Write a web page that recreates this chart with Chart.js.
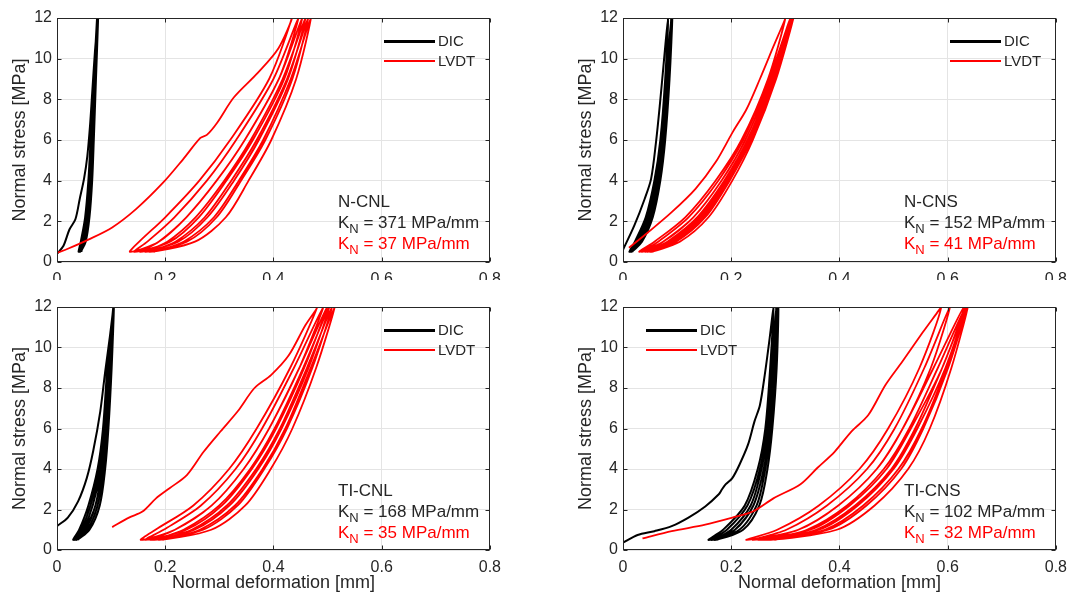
<!DOCTYPE html>
<html>
<head>
<meta charset="utf-8">
<script src="https://cdn.jsdelivr.net/npm/chart.js@4.4.0/dist/chart.umd.min.js"></script>
<style>
    body { margin: 0; width: 1075px; height: 603px; background: #fff; position: relative; overflow: hidden; font-family: "Liberation Sans", Arial, sans-serif; color: #262626; }
    .panel { position: absolute; overflow: hidden; width: 509px; }
    .panel canvas { display: block; }
    .legLine { position: absolute; width: 51px; }
    .legText { position: absolute; font-size: 15px; line-height: 16px; color: #262626; }
    .note { position: absolute; font-size: 17px; line-height: 21px; color: #262626; white-space: nowrap; }
    .note sub { font-size: 13px; vertical-align: -5px; line-height: 0; }
    .note .red { color: #ff0000; }
</style>
</head>
<body>
<div class="panel" style="left:0;top:0;height:280px"><canvas id="c0" width="509" height="302"></canvas></div>
<div class="panel" style="left:566px;top:0;height:280px"><canvas id="c1" width="509" height="302"></canvas></div>
<div class="panel" style="left:0;top:289px;height:314px"><canvas id="c2" width="509" height="314"></canvas></div>
<div class="panel" style="left:566px;top:289px;height:314px"><canvas id="c3" width="509" height="314"></canvas></div>
<div id="overlay"></div>
<script>
// panel labels and stiffness values
const panelNames = ["N-CNL", "N-CNS", "TI-CNL", "TI-CNS"];
const kDic = [371, 152, 168, 102];
const kLvdt = [37, 41, 35, 32];
const seriesNames = ["DIC", "LVDT"];

const xTickValues = [0, 0.2, 0.4, 0.6, 0.8];
const xTickLabels = ["0", "0.2", "0.4", "0.6", "0.8"];
const yTickValues = [0, 2, 4, 6, 8, 10, 12];
const yTickLabels = ["0", "2", "4", "6", "8", "10", "12"];

// [deformation mm, stress MPa]
const ncnlDic = [
    [0, 0.4], [0.012, 0.8], [0.023, 1.6], [0.034, 2.1], [0.042, 3.1], [0.05, 4.1], [0.056, 5.2], [0.061, 6.7], [0.065, 8.3], [0.07, 10.3], [0.075, 12],
    [0.067, 9], [0.062, 6], [0.058, 4], [0.052, 2.2], [0.044, 1], [0.04, 0.5],
    [0.049, 1], [0.057, 2.2], [0.062, 4], [0.066, 6], [0.07, 9], [0.074, 12],
    [0.068, 9], [0.063, 6], [0.059, 4], [0.054, 2.2], [0.046, 1], [0.042, 0.5],
    [0.051, 1], [0.058, 2.2], [0.064, 4], [0.067, 6], [0.071, 9], [0.075, 12],
    [0.069, 9], [0.064, 6], [0.061, 4], [0.055, 2.2], [0.048, 1], [0.043, 0.5],
    [0.053, 1], [0.06, 2.2], [0.065, 4], [0.068, 6], [0.072, 9], [0.076, 12],
    [0.07, 9], [0.066, 6], [0.062, 4], [0.057, 2.2], [0.049, 1], [0.045, 0.5]
];
const ncnlLvdt = [
    [0, 0.45], [0.02, 0.65], [0.058, 1.1], [0.102, 1.7], [0.146, 2.6], [0.196, 3.9], [0.233, 5.05], [0.265, 6.1], [0.277, 6.25], [0.296, 6.85], [0.327, 8.1], [0.371, 9.3], [0.409, 10.5], [0.434, 12],
    [0.392, 9], [0.32, 6], [0.263, 4], [0.2, 2.2], [0.152, 1], [0.135, 0.5],
    [0.188, 1], [0.239, 2.2], [0.295, 4], [0.347, 6], [0.41, 9], [0.446, 12],
    [0.4, 9], [0.331, 6], [0.277, 4], [0.217, 2.2], [0.167, 1], [0.143, 0.5],
    [0.209, 1], [0.262, 2.2], [0.313, 4], [0.362, 6], [0.42, 9], [0.453, 12],
    [0.41, 9], [0.347, 6], [0.295, 4], [0.239, 2.2], [0.188, 1], [0.154, 0.5],
    [0.224, 1], [0.278, 2.2], [0.327, 4], [0.373, 6], [0.427, 9], [0.459, 12],
    [0.417, 9], [0.358, 6], [0.309, 4], [0.256, 2.2], [0.204, 1], [0.163, 0.5],
    [0.24, 1], [0.295, 2.2], [0.34, 4], [0.385, 6], [0.435, 9], [0.464, 12],
    [0.425, 9], [0.369, 6], [0.322, 4], [0.273, 2.2], [0.219, 1], [0.171, 0.5],
    [0.255, 1], [0.312, 2.2], [0.354, 4], [0.396, 6], [0.442, 9], [0.469, 12],
    [0.432, 9], [0.381, 6], [0.336, 4], [0.29, 2.2], [0.234, 1], [0.179, 0.5]
];
const ncnsDic = [
    [0, 0.6], [0.021, 1.8], [0.04, 3.1], [0.052, 4.1], [0.061, 5.9], [0.068, 7.7], [0.076, 10], [0.083, 12],
    [0.078, 9], [0.069, 6], [0.058, 4], [0.042, 2.2], [0.022, 1], [0.012, 0.5],
    [0.03, 1], [0.05, 2.2], [0.065, 4], [0.074, 6], [0.083, 9], [0.089, 12],
    [0.08, 9], [0.071, 6], [0.06, 4], [0.045, 2.2], [0.025, 1], [0.014, 0.5],
    [0.032, 1], [0.052, 2.2], [0.067, 4], [0.076, 6], [0.084, 9], [0.09, 12],
    [0.081, 9], [0.073, 6], [0.062, 4], [0.047, 2.2], [0.027, 1], [0.015, 0.5],
    [0.035, 1], [0.055, 2.2], [0.069, 4], [0.078, 6], [0.086, 9], [0.091, 12],
    [0.083, 9], [0.074, 6], [0.065, 4], [0.05, 2.2], [0.03, 1], [0.017, 0.5]
];
const ncnsLvdt = [
    [0.011, 0.7], [0.046, 1.45], [0.09, 2.45], [0.134, 3.6], [0.171, 4.9], [0.203, 6.4], [0.228, 7.5], [0.253, 9], [0.278, 10.6], [0.3, 12],
    [0.268, 9], [0.219, 6], [0.171, 4], [0.115, 2.2], [0.058, 1], [0.03, 0.5],
    [0.074, 1], [0.13, 2.2], [0.182, 4], [0.226, 6], [0.273, 9], [0.309, 12],
    [0.27, 9], [0.222, 6], [0.176, 4], [0.121, 2.2], [0.065, 1], [0.035, 0.5],
    [0.084, 1], [0.139, 2.2], [0.188, 4], [0.231, 6], [0.276, 9], [0.311, 12],
    [0.273, 9], [0.226, 6], [0.182, 4], [0.13, 2.2], [0.074, 1], [0.041, 0.5],
    [0.091, 1], [0.145, 2.2], [0.193, 4], [0.234, 6], [0.279, 9], [0.312, 12],
    [0.276, 9], [0.23, 6], [0.187, 4], [0.137, 2.2], [0.082, 1], [0.045, 0.5],
    [0.098, 1], [0.152, 2.2], [0.197, 4], [0.237, 6], [0.281, 9], [0.314, 12],
    [0.278, 9], [0.233, 6], [0.191, 4], [0.143, 2.2], [0.089, 1], [0.05, 0.5],
    [0.105, 1], [0.158, 2.2], [0.202, 4], [0.24, 6], [0.283, 9], [0.315, 12],
    [0.28, 9], [0.236, 6], [0.196, 4], [0.149, 2.2], [0.096, 1], [0.054, 0.5]
];
const ticnlDic = [
    [0, 1.18], [0.02, 1.6], [0.039, 2.4], [0.055, 3.55], [0.067, 4.9], [0.08, 6.85], [0.089, 8.8], [0.098, 10.6], [0.104, 12],
    [0.093, 9], [0.085, 6], [0.075, 4], [0.058, 2.2], [0.041, 1], [0.03, 0.5],
    [0.052, 1], [0.071, 2.2], [0.083, 4], [0.091, 6], [0.098, 9], [0.104, 12],
    [0.095, 9], [0.087, 6], [0.078, 4], [0.062, 2.2], [0.045, 1], [0.033, 0.5],
    [0.056, 1], [0.075, 2.2], [0.086, 4], [0.093, 6], [0.099, 9], [0.104, 12],
    [0.096, 9], [0.089, 6], [0.081, 4], [0.066, 2.2], [0.049, 1], [0.036, 0.5],
    [0.06, 1], [0.079, 2.2], [0.089, 4], [0.095, 6], [0.101, 9], [0.105, 12],
    [0.098, 9], [0.091, 6], [0.083, 4], [0.071, 2.2], [0.052, 1], [0.039, 0.5]
];
const ticnlLvdt = [
    [0.102, 1.13], [0.133, 1.6], [0.158, 1.9], [0.183, 2.55], [0.208, 3.05], [0.24, 3.7], [0.271, 4.85], [0.302, 5.85], [0.334, 6.85], [0.365, 8], [0.396, 8.65], [0.428, 9.6], [0.459, 11.1], [0.481, 12],
    [0.431, 9], [0.369, 6], [0.318, 4], [0.252, 2.2], [0.182, 1], [0.155, 0.5],
    [0.218, 1], [0.286, 2.2], [0.345, 4], [0.392, 6], [0.448, 9], [0.492, 12],
    [0.438, 9], [0.379, 6], [0.33, 4], [0.266, 2.2], [0.197, 1], [0.163, 0.5],
    [0.239, 1], [0.305, 2.2], [0.36, 4], [0.405, 6], [0.457, 9], [0.499, 12],
    [0.448, 9], [0.392, 6], [0.345, 4], [0.286, 2.2], [0.218, 1], [0.173, 0.5],
    [0.254, 1], [0.319, 2.2], [0.372, 4], [0.415, 6], [0.465, 9], [0.503, 12],
    [0.455, 9], [0.402, 6], [0.357, 4], [0.3, 2.2], [0.234, 1], [0.18, 0.5],
    [0.27, 1], [0.334, 2.2], [0.383, 4], [0.425, 6], [0.472, 9], [0.508, 12],
    [0.462, 9], [0.412, 6], [0.368, 4], [0.314, 2.2], [0.249, 1], [0.188, 0.5],
    [0.285, 1], [0.348, 2.2], [0.395, 4], [0.435, 6], [0.479, 9], [0.513, 12],
    [0.469, 9], [0.422, 6], [0.38, 4], [0.329, 2.2], [0.264, 1], [0.195, 0.5]
];
const ticnsDic = [
    [0, 0.36], [0.027, 0.74], [0.058, 0.93], [0.09, 1.18], [0.121, 1.6], [0.152, 2.15], [0.177, 2.75], [0.183, 3], [0.19, 3.25], [0.202, 3.55], [0.215, 4.2], [0.231, 5.2], [0.243, 6.35], [0.253, 7.15], [0.262, 8.65], [0.271, 10.45], [0.278, 12],
    [0.272, 9], [0.263, 6], [0.249, 4], [0.225, 2.2], [0.185, 1], [0.158, 0.5],
    [0.207, 1], [0.241, 2.2], [0.26, 4], [0.271, 6], [0.279, 9], [0.283, 12],
    [0.274, 9], [0.266, 6], [0.253, 4], [0.23, 2.2], [0.192, 1], [0.163, 0.5],
    [0.215, 1], [0.247, 2.2], [0.263, 4], [0.273, 6], [0.282, 9], [0.285, 12],
    [0.277, 9], [0.268, 6], [0.256, 4], [0.236, 2.2], [0.2, 1], [0.169, 0.5],
    [0.222, 1], [0.252, 2.2], [0.267, 4], [0.276, 6], [0.284, 9], [0.287, 12],
    [0.279, 9], [0.271, 6], [0.26, 4], [0.241, 2.2], [0.207, 1], [0.174, 0.5]
];
const ticnsLvdt = [
    [0.036, 0.57], [0.09, 0.93], [0.152, 1.25], [0.202, 1.6], [0.24, 1.9], [0.278, 2.55], [0.328, 3.25], [0.359, 4.05], [0.391, 4.85], [0.422, 5.85], [0.453, 6.65], [0.485, 8.15], [0.516, 9.3], [0.554, 10.75], [0.588, 12],
    [0.548, 9], [0.49, 6], [0.437, 4], [0.362, 2.2], [0.285, 1], [0.228, 0.5],
    [0.324, 1], [0.398, 2.2], [0.469, 4], [0.517, 6], [0.569, 9], [0.604, 12],
    [0.557, 9], [0.502, 6], [0.451, 4], [0.377, 2.2], [0.302, 1], [0.24, 0.5],
    [0.346, 1], [0.419, 2.2], [0.487, 4], [0.532, 6], [0.59, 9], [0.63, 12],
    [0.574, 9], [0.517, 6], [0.469, 4], [0.398, 2.2], [0.324, 1], [0.25, 0.5],
    [0.362, 1], [0.434, 2.2], [0.5, 4], [0.544, 6], [0.596, 9], [0.633, 12],
    [0.582, 9], [0.529, 6], [0.482, 4], [0.414, 2.2], [0.34, 1], [0.26, 0.5],
    [0.379, 1], [0.45, 2.2], [0.514, 4], [0.555, 6], [0.601, 9], [0.635, 12],
    [0.59, 9], [0.54, 6], [0.496, 4], [0.429, 2.2], [0.357, 1], [0.27, 0.5],
    [0.395, 1], [0.465, 2.2], [0.527, 4], [0.567, 6], [0.607, 9], [0.637, 12],
    [0.598, 9], [0.552, 6], [0.509, 4], [0.444, 2.2], [0.373, 1], [0.28, 0.5]
];

const panels = [
    { dic: ncnlDic, lvdt: ncnlLvdt, bottom: false, legendLeft: false },
    { dic: ncnsDic, lvdt: ncnsLvdt, bottom: false, legendLeft: false },
    { dic: ticnlDic, lvdt: ticnlLvdt, bottom: true, legendLeft: false },
    { dic: ticnsDic, lvdt: ticnsLvdt, bottom: true, legendLeft: true },
];

const axisColor = "#262626";
const fontFamily = '"Liberation Sans", Arial, sans-serif';

// MATLAB style box with inward ticks
const boxPlugin = {
    id: "boxPlugin",
    afterDraw(chart) {
        const { ctx, chartArea: a, scales } = chart;
        const l = Math.round(a.left) + 0.5, r = Math.round(a.right) - 0.5;
        const t = Math.round(a.top) + 0.5, b = Math.round(a.bottom) - 0.5;
        ctx.save();
        ctx.strokeStyle = axisColor;
        ctx.lineWidth = 1;
        ctx.beginPath();
        xTickValues.forEach((v) => {
            const px = Math.round(scales.x.getPixelForValue(v)) + 0.5;
            ctx.moveTo(px, b); ctx.lineTo(px, b - 4);
            ctx.moveTo(px, t); ctx.lineTo(px, t + 4);
        });
        yTickValues.forEach((v) => {
            const py = Math.round(scales.y.getPixelForValue(v)) + 0.5;
            ctx.moveTo(l, py); ctx.lineTo(l + 4, py);
            ctx.moveTo(r, py); ctx.lineTo(r - 4, py);
        });
        ctx.stroke();
        ctx.strokeRect(l, t, r - l, b - t);
        ctx.restore();
    },
};

function toPoints(arr) {
    return arr.map((p) => ({ x: p[0], y: p[1] }));
}

function makeChart(idx) {
    const p = panels[idx];
    const canvas = document.getElementById("c" + idx);
    new Chart(canvas.getContext("2d"), {
        type: "scatter",
        data: {
            datasets: [
                {
                    label: seriesNames[1],
                    data: toPoints(p.lvdt),
                    showLine: true,
                    borderColor: "#ff0000",
                    borderWidth: 1.8,
                    pointRadius: 0,
                    tension: 0.3,
                },
                {
                    label: seriesNames[0],
                    data: toPoints(p.dic),
                    showLine: true,
                    borderColor: "#000000",
                    borderWidth: 2,
                    pointRadius: 0,
                    tension: 0.3,
                },
            ],
        },
        plugins: [boxPlugin],
        options: {
            responsive: false,
            animation: false,
            layout: { padding: { top: 18, right: 12, left: 0, bottom: 0 } },
            plugins: { legend: { display: false }, tooltip: { enabled: false } },
            scales: {
                x: {
                    type: "linear",
                    min: 0,
                    max: 0.8,
                    afterBuildTicks: (s) => { s.ticks = xTickValues.map((v) => ({ value: v })); },
                    afterFit: (s) => { s.height = p.bottom ? 53 : 40; },
                    ticks: {
                        color: axisColor,
                        padding: 8,
                        maxRotation: 0,
                        font: { family: fontFamily, size: 16 },
                        callback: (v, i) => xTickLabels[i],
                    },
                    grid: { color: "#e4e4e4", drawTicks: false },
                    border: { display: false },
                    title: {
                        display: p.bottom,
                        text: "Normal deformation [mm]",
                        color: axisColor,
                        font: { family: fontFamily, size: 18 },
                        padding: { top: 4, bottom: 9 },
                    },
                },
                y: {
                    type: "linear",
                    min: 0,
                    max: 12,
                    afterBuildTicks: (s) => { s.ticks = yTickValues.map((v) => ({ value: v })); },
                    afterFit: (s) => { s.width = 57; },
                    ticks: {
                        color: axisColor,
                        padding: 5,
                        font: { family: fontFamily, size: 16 },
                        callback: (v, i) => yTickLabels[i],
                    },
                    grid: { color: "#e4e4e4", drawTicks: false },
                    border: { display: false },
                    title: {
                        display: true,
                        text: "Normal stress [MPa]",
                        color: axisColor,
                        font: { family: fontFamily, size: 18 },
                        padding: { top: 9, bottom: 4 },
                    },
                },
            },
        },
    });
}

function addOverlay(idx) {
    const p = panels[idx];
    const overlay = document.getElementById("overlay");
    const offX = idx % 2 === 1 ? 566 : 0;
    const offY = idx >= 2 ? 289 : 0;
    const legX = p.legendLeft ? offX + 80 : offX + 384;
    const colors = ["#000000", "#ff0000"];
    const heights = [3, 2];
    seriesNames.forEach((name, i) => {
        const cy = offY + 41 + i * 20;
        const line = document.createElement("div");
        line.className = "legLine";
        line.style.left = legX + "px";
        line.style.top = (cy - heights[i] / 2) + "px";
        line.style.height = heights[i] + "px";
        line.style.background = colors[i];
        overlay.appendChild(line);
        const txt = document.createElement("div");
        txt.className = "legText";
        txt.style.left = (legX + 54) + "px";
        txt.style.top = (cy - 8) + "px";
        txt.textContent = name;
        overlay.appendChild(txt);
    });
    const note = document.createElement("div");
    note.className = "note";
    note.style.left = (offX + 338) + "px";
    note.style.top = (offY + 191) + "px";
    note.innerHTML = panelNames[idx] + "<br>K<sub>N</sub> = " + kDic[idx] + " MPa/mm<br>" +
        '<span class="red">K<sub>N</sub> = ' + kLvdt[idx] + " MPa/mm</span>";
    overlay.appendChild(note);
}

document.addEventListener("DOMContentLoaded", () => {
    for (let i = 0; i < 4; i++) {
        makeChart(i);
        addOverlay(i);
    }
});
</script>
</body>
</html>
